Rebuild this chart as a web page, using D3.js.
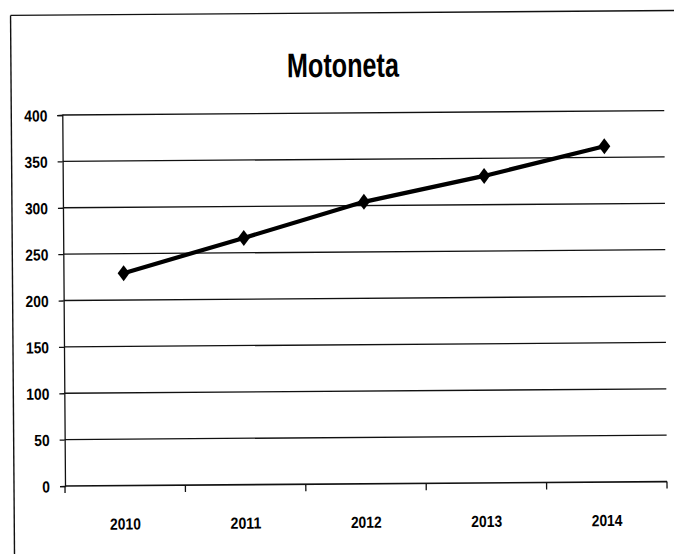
<!DOCTYPE html>
<html>
<head>
<meta charset="utf-8">
<script src="https://cdn.jsdelivr.net/npm/d3@7"></script>
<style>
  html, body { margin: 0; padding: 0; background: #fff; overflow: hidden; }
  svg { display: block; }
  .lbl { font-family: "Liberation Sans", Arial, sans-serif; font-weight: bold; fill: #000; }
</style>
</head>
<body>
<svg id="chart" width="674" height="554"></svg>
<script>
// Yearly figures for the "Motoneta" series
const years = ["2010", "2011", "2012", "2013", "2014"];
const values = [229, 266, 304, 331, 362];
const yTicks = [0, 50, 100, 150, 200, 250, 300, 350, 400];
const title = "Motoneta";

const plot = { left: 65, right: 667, top: 115, bottom: 486 };
const digitW = 7.7; // condensed width per digit for the axis labels

const svg = d3.select("#chart");
// whole sheet sits a touch askew, as on a scanned page
const g = svg.append("g").attr("transform", `rotate(-0.42, ${plot.left}, ${plot.bottom})`);

// outer frame: top and left edges
g.append("line").attr("x1", 14).attr("y1", 15).attr("x2", 740).attr("y2", 15)
  .attr("stroke", "#111").attr("stroke-width", 1.4);
g.append("line").attr("x1", 14).attr("y1", 15).attr("x2", 14).attr("y2", 600)
  .attr("stroke", "#111").attr("stroke-width", 1.4);

const x = d3.scaleBand().domain(years).range([plot.left, plot.right]);
const y = d3.scaleLinear().domain([0, 400]).range([plot.bottom, plot.top]);

// horizontal gridlines
g.append("g").selectAll("line").data(yTicks.filter(d => d > 0)).join("line")
  .attr("x1", plot.left).attr("x2", plot.right)
  .attr("y1", d => y(d)).attr("y2", d => y(d))
  .attr("stroke", "#111").attr("stroke-width", 1.3);

// y axis
const yAxis = g.append("g")
  .attr("transform", `translate(${plot.left},0)`)
  .call(d3.axisLeft(y).tickValues(yTicks).tickSize(5).tickPadding(10));
yAxis.select(".domain").attr("stroke", "#111").attr("stroke-width", 1.3);
yAxis.selectAll(".tick line").attr("stroke", "#111").attr("stroke-width", 1.3);
yAxis.selectAll(".tick text")
  .attr("class", "lbl").attr("font-size", 16).attr("dy", "0.36em")
  .attr("font-family", null)
  .attr("textLength", d => String(d).length * digitW)
  .attr("lengthAdjust", "spacingAndGlyphs");

// x axis with ticks between categories
const xAxisG = g.append("g").attr("transform", `translate(0,${plot.bottom})`);
xAxisG.append("line")
  .attr("x1", plot.left).attr("x2", plot.right)
  .attr("stroke", "#111").attr("stroke-width", 1.6);
const bounds = years.map(d => x(d)).concat([x(years[years.length - 1]) + x.bandwidth()]);
xAxisG.selectAll("line.tk").data(bounds).join("line").attr("class", "tk")
  .attr("x1", d => d).attr("x2", d => d)
  .attr("y1", 0).attr("y2", 7)
  .attr("stroke", "#111").attr("stroke-width", 1.3);
xAxisG.selectAll("text").data(years).join("text")
  .attr("class", "lbl")
  .attr("x", d => x(d) + x.bandwidth() / 2)
  .attr("y", 44)
  .attr("text-anchor", "middle")
  .attr("font-size", 16)
  .attr("textLength", d => d.length * digitW)
  .attr("lengthAdjust", "spacingAndGlyphs")
  .text(d => d);

// series line
const pts = years.map((d, i) => [x(d) + x.bandwidth() / 2, y(values[i])]);
g.append("path")
  .datum(pts)
  .attr("d", d3.line())
  .attr("fill", "none")
  .attr("stroke", "#000")
  .attr("stroke-width", 4.2)
  .attr("stroke-linejoin", "round");

// diamond markers
g.append("g").selectAll("path").data(pts).join("path")
  .attr("d", d => `M${d[0]},${d[1] - 8} L${d[0] + 6},${d[1]} L${d[0]},${d[1] + 8} L${d[0] - 6},${d[1]} Z`)
  .attr("fill", "#000");

// title
g.append("text")
  .attr("class", "lbl")
  .attr("x", 346).attr("y", 79)
  .attr("text-anchor", "middle")
  .attr("font-size", 34)
  .attr("textLength", 112)
  .attr("lengthAdjust", "spacingAndGlyphs")
  .text(title);
</script>
</body>
</html>
